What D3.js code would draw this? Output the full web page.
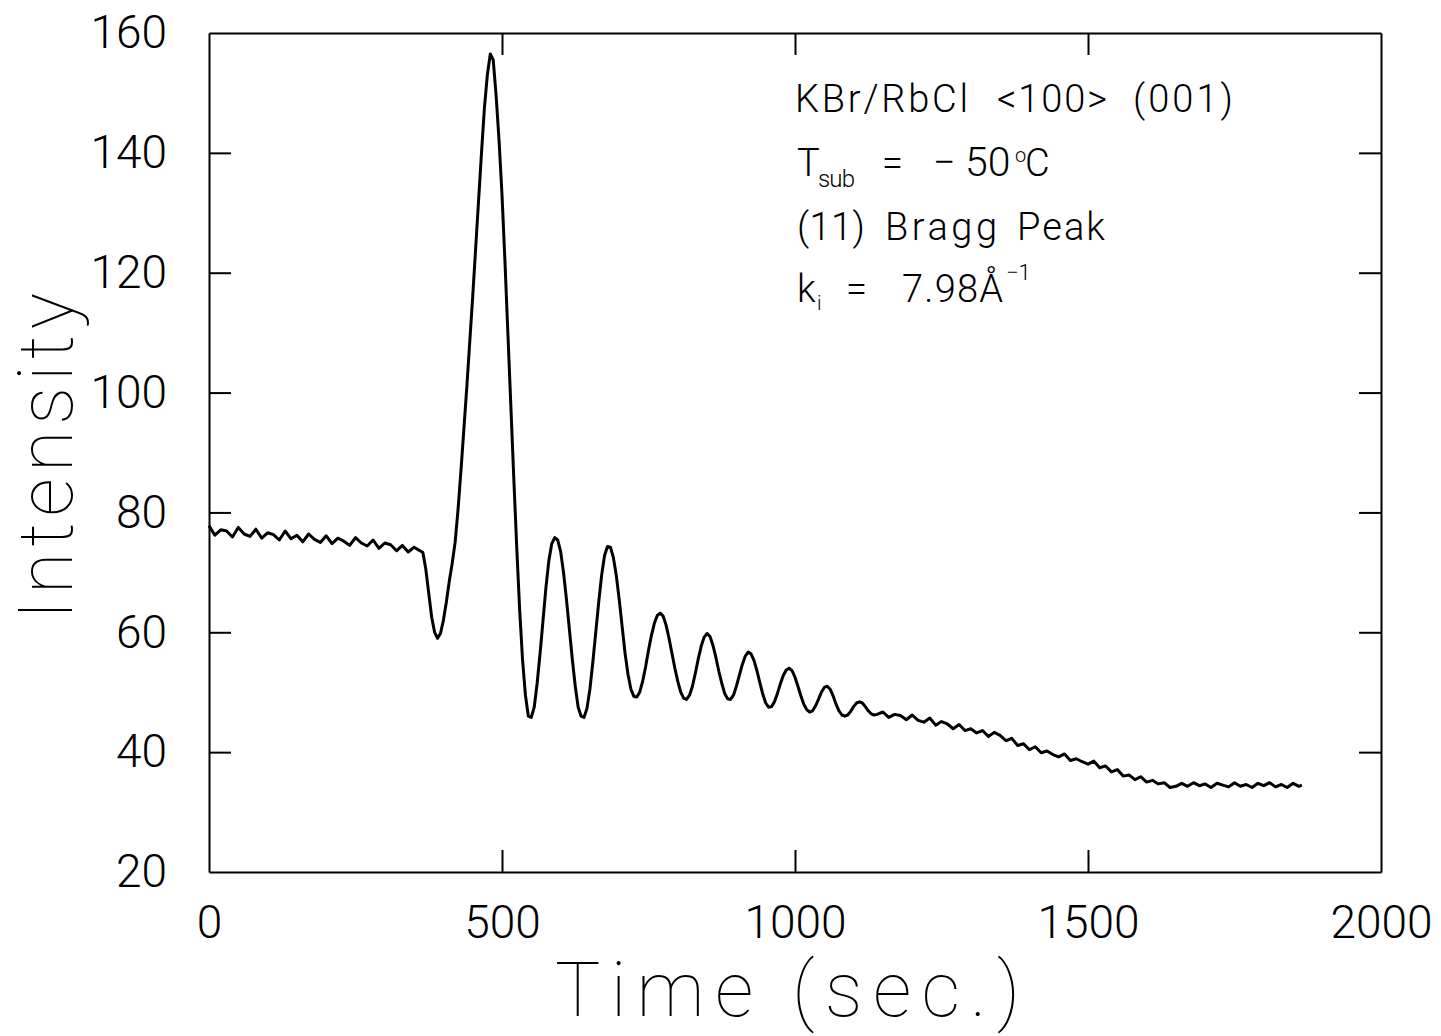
<!doctype html>
<html>
<head>
<meta charset="utf-8">
<style>
  body { margin: 0; background: #fff; }
  svg text { font-family: Roboto, "Liberation Sans", sans-serif; font-weight: 300; fill: #000; white-space: pre; }
  .axis path { stroke: #000; stroke-width: 2; }
  .axis line { stroke: #000; stroke-width: 2; }
  .axis text { font-size: 46px; }
  .title { font-weight: 100; }
</style>
<script src="https://d3js.org/d3.v7.min.js"></script>
</head>
<body>
<svg width="1441" height="1036"></svg>
<script>

// [time (sec), intensity]
var baseline = [
  [0,77.8],[10,76.2],[20,77.1],[30,76.9],[40,75.9],[50,77.5],[60,76.4],[70,76.0],[80,77.2],[90,75.7],
  [100,76.6],[110,76.3],[120,75.4],[130,76.9],[140,75.6],[150,76.2],[160,75.1],[170,76.4],[180,75.5],[190,75.0],
  [200,76.1],[210,74.8],[220,75.7],[230,75.2],[240,74.5],[250,75.8],[260,74.9],[270,74.4],[280,75.4],[290,74.0],
  [300,74.9],[310,74.6],[320,73.6],[330,74.5],[340,73.4],[350,74.2],[360,73.6],[365,73.3]
];

var oscillations = [
  [370,70.5],[375,66.5],[380,62.5],[385,60],[390,59],[395,59.8],[400,62],[405,65],[410,68.5],[415,71.5],
  [420,75],[425,80.5],[430,87],[435,94],[440,101],[445,108.5],[450,116],[455,124],[460,132],[465,140],
  [470,147.5],[475,153],[480,156.5],[485,155.5],[490,149.5],[495,142],[500,133],[505,122],[510,110],[515,98],
  [520,86],[525,74.5],[530,64],[535,55.5],[540,49.5],[545,46],[550,45.8],[555,47.5],[560,51.5],[565,56.5],
  [570,62],[575,67.5],[580,72],[585,74.8],[590,75.8],[595,75.4],[600,73.5],[605,70],[610,65.5],[615,60.5],
  [620,55.5],[625,51],[630,47.5],[635,46],[640,45.8],[645,47.3],[650,50.5],[655,55],[660,60],[665,65],
  [670,69.5],[675,72.8],[680,74.3],[685,74.2],[690,72.5],[695,69.5],[700,65.5],[705,61],[710,56.5],[715,53],
  [720,50.5],[725,49.3],[730,49.2],[735,50],[740,51.8],[745,54.2],[750,57],[755,59.5],[760,61.5],[765,62.8],
  [770,63.2],[775,62.7],[780,61.2],[785,59],[790,56.5],[795,54],[800,51.8],[805,50],[810,49],[815,48.8],
  [820,49.5],[825,51],[830,53.2],[835,55.6],[840,57.7],[845,59.2],[850,59.8],[855,59.3],[860,57.8],[865,55.8],
  [870,53.5],[875,51.5],[880,49.8],[885,48.9],[890,48.8],[895,49.5],[900,51],[905,52.8],[910,54.6],[915,56],
  [920,56.7],[925,56.4],[930,55.3],[935,53.6],[940,51.6],[945,49.7],[950,48.2],[955,47.5],[960,47.6],[965,48.4],
  [970,49.8],[975,51.4],[980,52.8],[985,53.7],[990,54],[995,53.6],[1000,52.5],[1005,51],[1010,49.4],[1015,48],
  [1020,47.1],[1025,46.7],[1030,46.9],[1035,47.7],[1040,48.8],[1045,50],[1050,50.8],[1055,51],[1060,50.5],[1065,49.4],
  [1070,48],[1075,46.9],[1080,46.2],[1085,46],[1090,46.2],[1095,46.8],[1100,47.6],[1105,48.2],[1110,48.4],[1115,48.2],
  [1120,47.6],[1125,46.9],[1130,46.4],[1135,46.2],[1140,46.3]
];

var decay = [
  [1150,46.7],[1160,45.8],[1170,46.3],[1180,46.1],[1190,45.4],[1200,46.2],[1210,45.3],[1220,45.0],[1230,45.7],[1240,44.5],
  [1250,45.1],[1260,44.7],[1270,43.9],[1280,44.6],[1290,43.6],[1300,43.9],[1310,43.2],[1320,43.6],[1330,42.6],[1340,43.3],
  [1350,42.8],[1360,41.9],[1370,42.3],[1380,41.1],[1390,41.4],[1400,40.4],[1410,40.9],[1420,39.9],[1430,40.2],[1440,39.6],
  [1450,39.2],[1460,39.7],[1470,38.6],[1480,38.9],[1490,38.4],[1500,38.0],[1510,38.5],[1520,37.4],[1530,37.7],[1540,36.7],
  [1550,37.1],[1560,36.0],[1570,36.2],[1580,35.4],[1590,35.9],[1600,35.0],[1610,35.3],[1620,34.7],[1630,34.9],[1640,34.1],
  [1650,34.3],[1660,34.8],[1670,34.3],[1680,34.9],[1690,34.4],[1700,34.7],[1710,34.1],[1720,34.8],[1730,34.5],[1740,34.2],
  [1750,34.9],[1760,34.3],[1770,34.6],[1780,34.1],[1790,34.8],[1800,34.4],[1810,34.9],[1820,34.2],[1830,34.6],[1840,34.1],
  [1850,34.8],[1860,34.3],[1865,34.5]
];

var xTicks = [0, 500, 1000, 1500, 2000];
var yTicks = [20, 40, 60, 80, 100, 120, 140, 160];

var svg = d3.select("svg"),
    plotLeft = 209, plotRight = 1381, plotTop = 33, plotBottom = 872;

var x = d3.scaleLinear().domain([0, 2000]).range([plotLeft, plotRight]),
    y = d3.scaleLinear().domain([20, 160]).range([plotBottom, plotTop]);

var tick = 22;

svg.append("g").attr("class", "axis")
   .attr("transform", "translate(0," + plotBottom + ")")
   .call(d3.axisBottom(x).tickValues(xTicks).tickFormat(d3.format("d"))
         .tickSizeInner(-tick).tickSizeOuter(0).tickPadding(33));

svg.append("g").attr("class", "axis")
   .attr("transform", "translate(0," + plotTop + ")")
   .call(d3.axisTop(x).tickValues(xTicks).tickSizeInner(-tick).tickSizeOuter(0).tickFormat(""));

svg.append("g").attr("class", "axis")
   .attr("transform", "translate(" + plotLeft + ",0)")
   .call(d3.axisLeft(y).tickValues(yTicks).tickFormat(d3.format("d"))
         .tickSizeInner(-tick).tickSizeOuter(0).tickPadding(42));

svg.append("g").attr("class", "axis")
   .attr("transform", "translate(" + plotRight + ",0)")
   .call(d3.axisRight(y).tickValues(yTicks).tickSizeInner(-tick).tickSizeOuter(0).tickFormat(""));

// no tick marks on the frame corners
svg.selectAll(".axis .tick").filter(function(d) {
    return d === 0 || d === 2000 || d === 20 || d === 160;
}).select("line").remove();

svg.selectAll(".axis text").attr("font-family", null).attr("font-size", null);

var trace = baseline.concat(oscillations, decay);

var line = d3.line()
    .x(function(d) { return x(d[0]); })
    .y(function(d) { return y(d[1]); });

svg.append("path")
   .datum(trace)
   .attr("fill", "none")
   .attr("stroke", "#000")
   .attr("stroke-width", 3)
   .attr("stroke-linejoin", "round")
   .attr("d", line);

// axis titles
svg.append("text")
   .attr("class", "title")
   .attr("x", 555).attr("y", 1016)
   .attr("font-size", 76)
   .attr("textLength", 465).attr("lengthAdjust", "spacing")
   .text("Time (sec.)");

svg.append("text")
   .attr("class", "title")
   .attr("transform", "translate(72,620) rotate(-90)")
   .attr("font-size", 76)
   .attr("textLength", 327).attr("lengthAdjust", "spacing")
   .text("Intensity");

// annotation, drawn piece by piece
var note = svg.append("g").attr("font-size", 38);

function piece(txt, px, py, len, size) {
    var t = note.append("text").attr("x", px).attr("y", py).text(txt);
    if (len) t.attr("textLength", len).attr("lengthAdjust", "spacing");
    if (size) t.attr("font-size", size);
    return t;
}

piece("KBr/RbCl", 795, 112, 173);
piece("<100>", 997, 112, 110);
piece("(001)", 1133, 112, 100);

piece("T", 797, 176);
piece("sub", 818, 187, 37, 24);
piece("=", 882, 176, 25);
piece("\u2212", 933, 176, null, 40);
piece("50", 965, 176, null, 41);
piece("o", 1015, 162, null, 20);
piece("C", 1025, 176, 24);

piece("(11)", 797, 240, 68);
piece("Bragg", 885, 240, 112);
piece("Peak", 1017, 240, 88);

piece("k", 797, 302);
piece("i", 817, 310, null, 20);
piece("=", 846, 302, 25);
piece("7.98\u00c5", 902, 302, 101);
piece("\u22121", 1006, 280, null, 22);

</script>
</body>
</html>
